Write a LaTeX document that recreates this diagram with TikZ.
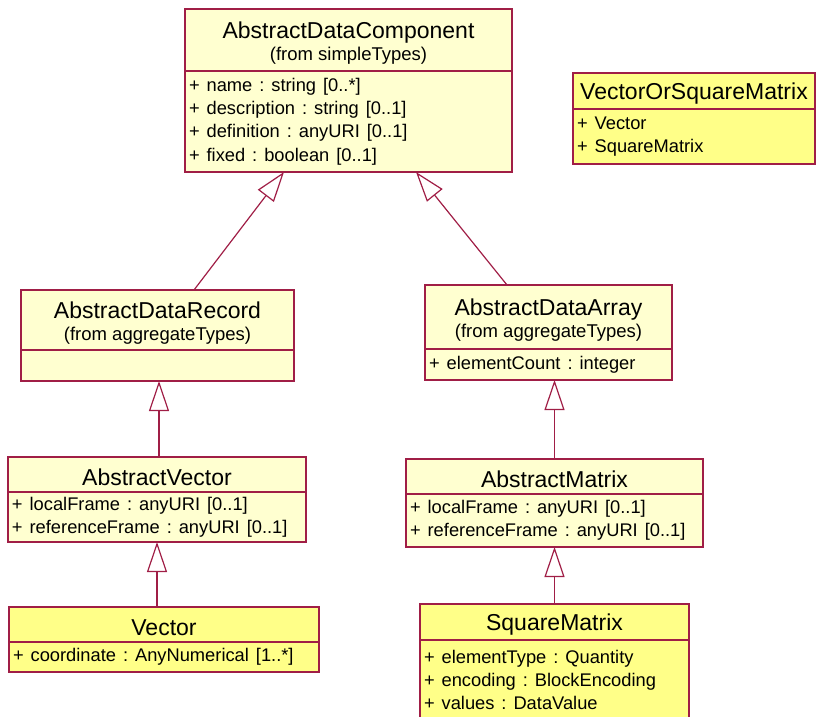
\documentclass[tikz,border=0pt]{standalone}
\usepackage{fontspec}
\setmainfont{Liberation Sans}
\usetikzlibrary{arrows.meta}
\definecolor{umlred}{RGB}{160,30,70}
\definecolor{paleyellow}{RGB}{255,255,208}
\definecolor{brightyellow}{RGB}{255,255,136}
\frenchspacing
\newcommand{\headstrut}{\rule{0pt}{22pt}}

\begin{document}
\begin{tikzpicture}[x=1pt,y=-1pt,
    box/.style={draw=umlred,line width=1.2pt,inner sep=0pt,outer sep=0pt,anchor=north west},
    head/.style={box,align=center,font=\fontsize{23}{22}\selectfont},
    attrs/.style={box,align=left,inner xsep=4pt,font=\fontsize{18.3}{23.3}\selectfont,execute at begin node={\spaceskip=0.38em\relax}},
    gen/.style={draw=umlred,line width=1.2pt,-{Triangle[open,length=30pt,width=20pt,fill=white]}}]
    \useasboundingbox (0,0) rectangle (820,717);

    % top
    \node[head,fill=paleyellow,minimum width=327pt,minimum height=62pt] (adc) at (185,9) {\headstrut AbstractDataComponent\\{\fontsize{18.5}{22}\selectfont(from simpleTypes)}};
    \node[attrs,fill=paleyellow,minimum width=327pt,minimum height=101pt,text width=319pt] (adc-a) at (185,71) {+ name : string [0..*]\\+ description : string [0..1]\\+ definition : anyURI [0..1]\\+ fixed : boolean [0..1]};

    \node[head,fill=brightyellow,minimum width=242pt,minimum height=36pt] (vsm) at (573,73) {\headstrut VectorOrSquareMatrix};
    \node[attrs,fill=brightyellow,minimum width=242pt,minimum height=55pt,text width=234pt] (vsm-a) at (573,109) {+ Vector\\+ SquareMatrix};

    % left branch
    \node[head,fill=paleyellow,minimum width=273pt,minimum height=60pt] (rec) at (21,290) {\headstrut AbstractDataRecord\\{\fontsize{18.5}{22}\selectfont(from aggregateTypes)}};
    \node[attrs,fill=paleyellow,minimum width=273pt,minimum height=31pt,text width=265pt] (rec-a) at (21,350) {};

    \node[head,fill=paleyellow,minimum width=298pt,minimum height=35pt] (avec) at (8,457) {\headstrut AbstractVector};
    \node[attrs,fill=paleyellow,minimum width=298pt,minimum height=50pt,text width=290pt] (avec-a) at (8,492) {+ localFrame : anyURI [0..1]\\+ referenceFrame : anyURI [0..1]};

    \node[head,fill=brightyellow,minimum width=310pt,minimum height=35pt] (vec) at (9,607) {\headstrut Vector};
    \node[attrs,fill=brightyellow,minimum width=310pt,minimum height=30pt,text width=302pt] (vec-a) at (9,642) {+ coordinate : AnyNumerical [1..*]};

    % right branch
    \node[head,fill=paleyellow,minimum width=247pt,minimum height=64pt] (arr) at (425,285) {\headstrut AbstractDataArray\\{\fontsize{18.5}{22}\selectfont(from aggregateTypes)}};
    \node[attrs,fill=paleyellow,minimum width=247pt,minimum height=31pt,text width=239pt] (arr-a) at (425,349) {+ elementCount : integer};

    \node[head,fill=paleyellow,minimum width=297pt,minimum height=35pt] (amat) at (406,459) {\headstrut AbstractMatrix};
    \node[attrs,fill=paleyellow,minimum width=297pt,minimum height=53pt,text width=289pt] (amat-a) at (406,494) {+ localFrame : anyURI [0..1]\\+ referenceFrame : anyURI [0..1]};

    \node[head,fill=brightyellow,minimum width=269pt,minimum height=36pt] (sqm) at (420,604) {\headstrut SquareMatrix};
    \node[attrs,fill=brightyellow,minimum width=269pt,minimum height=80pt,text width=261pt] (sqm-a) at (420,640) {+ elementType : Quantity\\+ encoding : BlockEncoding\\+ values : DataValue};

    % generalizations
    \draw[gen] ([xshift=36.5pt]rec.north) -- ([xshift=-64.5pt]adc-a.south);
    \draw[gen] ([xshift=-41.5pt]arr.north) -- ([xshift=67.5pt]adc-a.south);
    \draw[gen] ([xshift=2pt]avec.north) -- ([xshift=2pt]avec.north |- rec-a.south);
    \draw[gen] (avec-a.south |- vec.north) -- (avec-a.south);
    \draw[gen] (amat.north) -- (amat.north |- arr-a.south);
    \draw[gen] (sqm.north) -- (sqm.north |- amat-a.south);
\end{tikzpicture}
\end{document}
